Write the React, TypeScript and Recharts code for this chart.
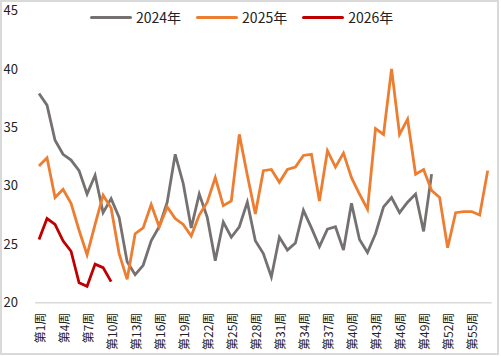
import React from "react"
import { LineChart, Line, XAxis, YAxis } from "recharts"

const weeks = Array.from({ length: 57 }, (_, i) => `第${i + 1}周`)

const values2024 = [
	37.9, 36.9, 33.9, 32.7, 32.2, 31.3, 29.3, 30.9, 27.7, 28.9,
	27.3, 23.5, 22.4, 23.2, 25.3, 26.5, 28.6, 32.7, 30.2, 26.4,
	29.3, 27.3, 23.6, 26.9, 25.6, 26.5, 28.6, 25.3, 24.2, 22.2,
	25.6, 24.5, 25.1, 27.9, 26.4, 24.8, 26.3, 26.5, 24.5, 28.5,
	25.4, 24.3, 25.9, 28.2, 29.0, 27.7, 28.6, 29.3, 26.1, 31.0,
]

const values2025 = [
	31.7, 32.4, 29.0, 29.7, 28.5, 26.2, 24.1, 26.7, 29.2, 28.1,
	24.2, 22.0, 25.9, 26.4, 28.4, 26.5, 28.2, 27.2, 26.7, 25.7,
	27.5, 28.6, 30.7, 28.3, 28.7, 34.4, 30.9, 27.6, 31.3, 31.4,
	30.3, 31.4, 31.6, 32.6, 32.7, 28.7, 33.0, 31.6, 32.8, 30.7,
	29.3, 28.0, 34.9, 34.4, 40.0, 34.4, 35.7, 31.0, 31.4, 29.6,
	29.0, 24.7, 27.7, 27.8, 27.8, 27.5, 31.3,
]

const values2026 = [25.4, 27.2, 26.7, 25.3, 24.4, 21.7, 21.4, 23.3, 23.0, 21.8]

const yTicks = [20, 25, 30, 35, 40, 45]

const series = [
	{ key: "y2024", name: "2024年", color: "#767171" },
	{ key: "y2025", name: "2025年", color: "#ED7D31" },
	{ key: "y2026", name: "2026年", color: "#C00000" },
]

const data = weeks.map((week, i) => ({
	week,
	y2024: values2024[i] ?? null,
	y2025: values2025[i] ?? null,
	y2026: values2026[i] ?? null,
}))

const font = '"Noto Sans CJK SC", "Microsoft YaHei", sans-serif'

const WeekTick = (props: any) => {
	const { x, y, payload } = props
	return (
		<text
			x={0}
			y={0}
			transform={`translate(${x},${y + 2}) rotate(-90)`}
			textAnchor="end"
			dominantBaseline="central"
			fontSize={12}
			fontFamily={font}
			fill="#222"
		>
			{payload.value}
		</text>
	)
}

const App = () => {
	return (
		<div
			style={{
				position: "absolute",
				left: 0,
				top: 0,
				width: 499,
				height: 355,
				border: "2px solid #d9d9d9",
				boxSizing: "border-box",
				background: "#fff",
				fontFamily: font,
			}}
		>
			<div style={{ position: "absolute", left: -2, top: -2 }}>
				<LineChart
					width={501}
					height={356}
					data={data}
					margin={{ top: 10.5, right: 9.3, bottom: 8, left: 0 }}
				>
					<XAxis
						dataKey="week"
						scale="band"
						interval={2}
						tickLine={false}
						axisLine={{ stroke: "#d9d9d9", strokeWidth: 1.5 }}
						tick={<WeekTick />}
						height={45.3}
					/>
					<YAxis
						type="number"
						domain={[20, 45]}
						ticks={yTicks}
						width={35}
						axisLine={false}
						tickLine={false}
						tickSize={6}
						tickMargin={11}
						tick={{ fill: "#222", fontSize: 13, fontFamily: font }}
					/>
					{series.map((s) => (
						<Line
							key={s.key}
							dataKey={s.key}
							name={s.name}
							stroke={s.color}
							strokeWidth={2.8}
							dot={false}
							activeDot={false}
							isAnimationActive={false}
							connectNulls={false}
						/>
					))}
				</LineChart>
			</div>
			<div
				style={{
					position: "absolute",
					left: 88,
					top: 5,
					display: "flex",
					alignItems: "center",
					fontSize: 14,
					color: "#222",
				}}
			>
				{series.map((s) => (
					<div
						key={s.key}
						style={{ display: "flex", alignItems: "center", marginRight: 15 }}
					>
						<span
							style={{
								display: "inline-block",
								width: 42,
								height: 3,
								background: s.color,
								borderRadius: 1.5,
								marginRight: 4,
							}}
						/>
						<span>{s.name}</span>
					</div>
				))}
			</div>
		</div>
	)
}

export default App
